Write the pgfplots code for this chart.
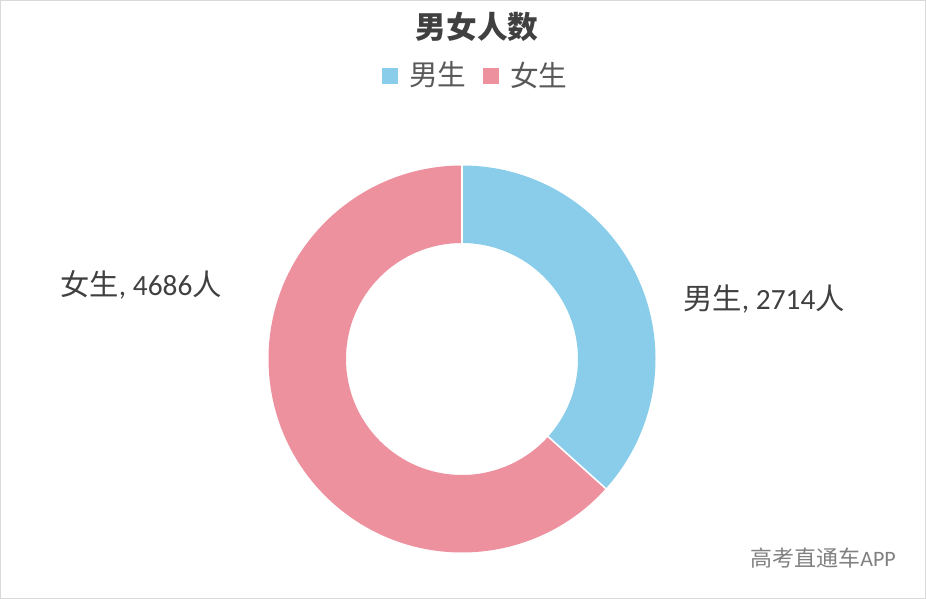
\documentclass[border=0pt]{standalone}
\usepackage{pgfplots}
\usepackage{pgfplotstable}
\pgfplotsset{compat=1.18}
\usepackage{fontspec}
\setmainfont{Carlito}
\newfontfamily\cjk{Noto Sans CJK SC}
\definecolor{male}{HTML}{89CDEA}
\definecolor{female}{HTML}{EE919F}
\definecolor{txt}{HTML}{404040}
\definecolor{legtxt}{HTML}{595959}
\definecolor{frame}{HTML}{D9D9D9}
\pgfplotstableread{
group value
male 2714
female 4686
}\datatable
\pgfplotstablegetelem{0}{value}\of\datatable \let\vm\pgfplotsretval
\pgfplotstablegetelem{1}{value}\of\datatable \let\vf\pgfplotsretval
\pgfmathsetmacro\am{90-360*(\vm/(\vm+\vf))}
\def\Rout{145.125pt}
\def\Rin{87pt}
\begin{document}
\begin{tikzpicture}
\begin{axis}[at={(0,0)},anchor=south west, scale only axis,
  width=694.5pt, height=449.25pt,
  xmin=0, xmax=926, ymin=0, ymax=599,
  axis lines=none, clip=false]
% frame
\draw[frame, line width=0.75pt] (axis cs:0.5,0.5) rectangle (axis cs:925.5,598.5);
% male slice
\fill[male] ([shift={(90:\Rout)}]axis cs:462,240) arc[start angle=90, end angle=\am, radius=\Rout]
  -- ([shift={(\am:\Rin)}]axis cs:462,240) arc[start angle=\am, end angle=90, radius=\Rin] -- cycle;
% female slice
\fill[female] ([shift={(\am:\Rout)}]axis cs:462,240) arc[start angle=\am, end angle=-270, radius=\Rout]
  -- ([shift={(90:\Rin)}]axis cs:462,240) arc[start angle=-270, end angle=\am, radius=\Rin] -- cycle;
% separators
\draw[white, line width=1.2pt] ([shift={(90:86pt)}]axis cs:462,240) -- ([shift={(90:146pt)}]axis cs:462,240);
\draw[white, line width=1.2pt] ([shift={(\am:86pt)}]axis cs:462,240) -- ([shift={(\am:146pt)}]axis cs:462,240);
% title
\node[txt, font=\cjk\bfseries\fontsize{23pt}{27pt}\selectfont] at (axis cs:477,572) {男女人数};
% legend
\fill[male] (axis cs:382,515) rectangle (axis cs:398,531);
\node[legtxt, anchor=west, inner sep=0pt, font=\cjk\fontsize{21.5pt}{25pt}\selectfont] at (axis cs:409,524) {男生};
\fill[female] (axis cs:483,515) rectangle (axis cs:499,531);
\node[legtxt, anchor=west, inner sep=0pt, font=\cjk\fontsize{21.5pt}{25pt}\selectfont] at (axis cs:510,524) {女生};
% data labels
\node[txt, anchor=west, inner sep=0pt, font=\fontsize{22pt}{26pt}\selectfont] at (axis cs:60,314) {{\cjk 女生}, \vf{\cjk 人}};
\node[txt, anchor=west, inner sep=0pt, font=\fontsize{22pt}{26pt}\selectfont] at (axis cs:683,300) {{\cjk 男生}, \vm{\cjk 人}};
% watermark
\node[gray, anchor=west, inner sep=0pt, font=\fontsize{16.5pt}{20pt}\selectfont] at (axis cs:750,41) {{\cjk 高考直通车}APP};
\end{axis}
\end{tikzpicture}
\end{document}
